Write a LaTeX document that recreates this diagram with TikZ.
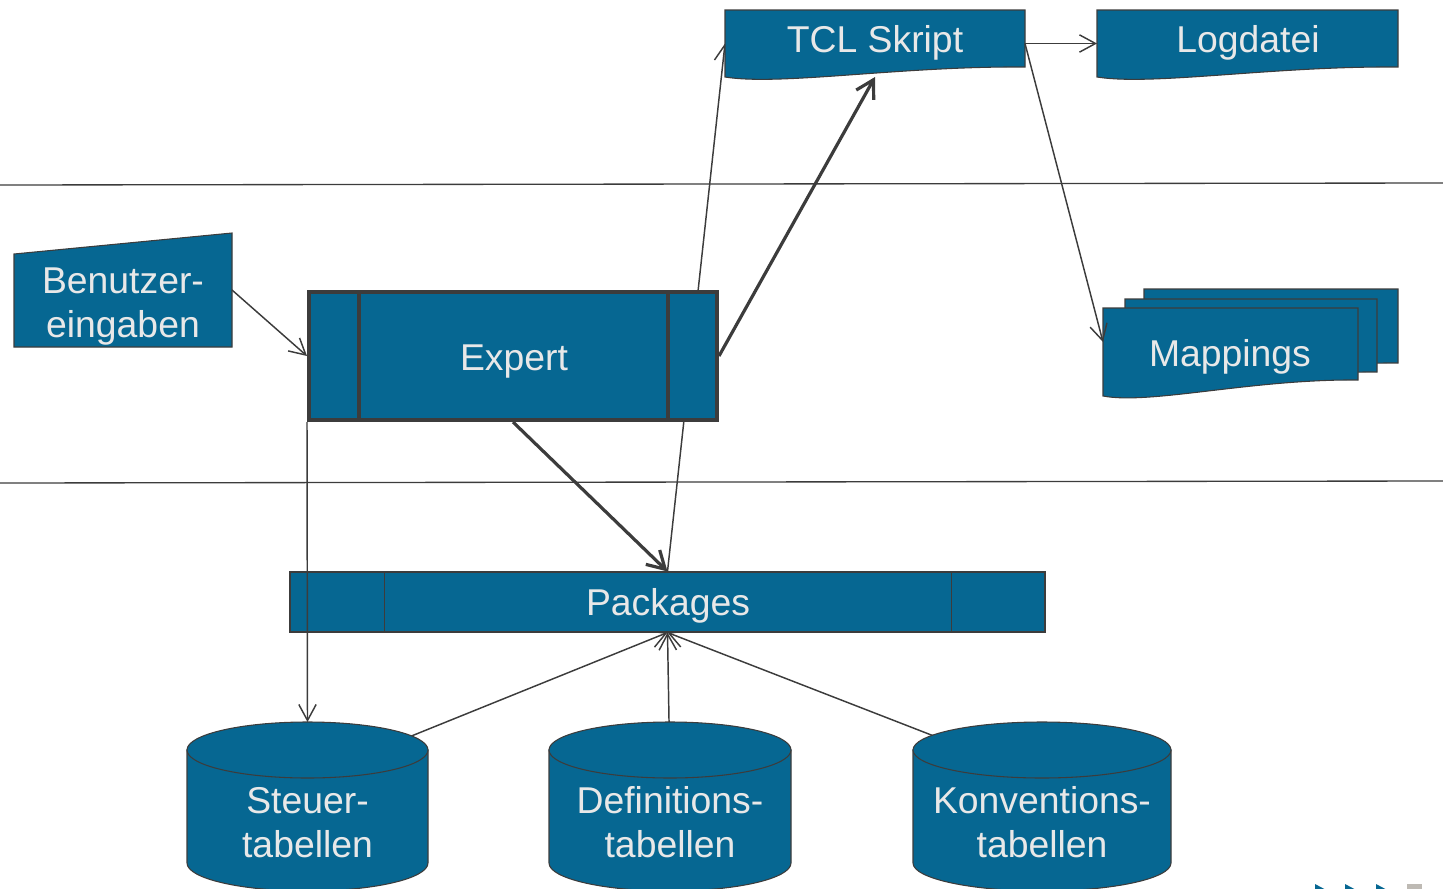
\documentclass[tikz,border=0pt]{standalone}
\usepackage{fontspec}
\setmainfont{Liberation Sans}
\usetikzlibrary{arrows.meta}
\definecolor{boxblue}{RGB}{6,103,146}
\definecolor{boxtext}{RGB}{232,232,232}
\definecolor{linegray}{RGB}{60,60,60}
\definecolor{decogray}{RGB}{190,186,180}
\pgfdeclarelayer{behind}
\pgfdeclarelayer{background}
\pgfsetlayers{behind,background,main}
% document shape: xl, xr, top, right bottom, left bottom
\newcommand\docpath[5]{(#1,#3) -- (#2,#3) -- (#2,#4) .. controls ({#1+0.583*(#2-#1)},{#4-1}) and ({#1+0.183*(#2-#1)},{#5+9}) .. (#1,#5) -- cycle}
% cylinder: xl, xr
\newcommand\cylshape[2]{%
  \draw[shapefill] (#1,750) -- (#1,863) arc[start angle=180, end angle=0, x radius={(#2-#1)/2}, y radius=28] -- (#2,750) -- cycle;
  \draw[shapefill] ({(#1+#2)/2},750) ellipse [x radius={(#2-#1)/2}, y radius=28];}
\begin{document}
\begin{tikzpicture}[x=0.75pt,y=-0.75pt,
  shapefill/.style={fill=boxblue, draw=linegray, line width=0.8pt},
  txt/.style={text=boxtext, font=\fontsize{28}{33}\selectfont, inner sep=0pt},
  anchorbox/.style={rectangle, draw=none, fill=none, inner sep=0pt, outer sep=0pt},
  expertbox/.style={rectangle, fill=boxblue, draw=linegray, line width=3pt, inner sep=0pt},
  packbox/.style={rectangle, fill=boxblue, draw=linegray, line width=0.8pt, inner sep=0pt},
  conn/.style={draw=linegray, line width=1.1pt, -{Straight Barb[length=12pt,width=13pt]}},
  bigconn/.style={draw=linegray, line width=2.4pt, -{Straight Barb[length=13pt,width=15pt]}},
  divider/.style={draw=linegray, line width=1pt}]
\useasboundingbox (0,0) rectangle (1443,889);

% anchor nodes
\node[anchorbox, minimum width=225pt, minimum height=50.25pt] (tcl) at (875,43.5) {};
\node[anchorbox, minimum width=225.75pt, minimum height=50.25pt] (logdatei) at (1247.5,43.5) {};
\node[anchorbox, minimum width=163.5pt, minimum height=85.5pt] (benutzer) at (123,290) {};
\node[anchorbox, minimum width=191.25pt, minimum height=66pt] (mappings) at (1230.5,352) {};
\node[anchorbox, minimum width=180.75pt, minimum height=84pt] (steuer) at (307.5,778) {};
\node[anchorbox, minimum width=181.5pt, minimum height=84pt] (definitions) at (670,778) {};
\node[anchorbox, minimum width=193.5pt, minimum height=84pt] (konventions) at (1042,778) {};

% Expert
\node[expertbox, minimum width=306pt, minimum height=96pt] (expert) at (513,356) {};
\draw[linegray, line width=2.5pt] ([xshift=39pt]expert.north west) -- ([xshift=39pt]expert.south west);
\draw[linegray, line width=2.5pt] ([xshift=-38.25pt]expert.north east) -- ([xshift=-38.25pt]expert.south east);

% Packages
\node[packbox, minimum width=566.25pt, minimum height=45pt] (packages) at (667.5,602) {};
\draw[linegray, line width=0.8pt] ([xshift=71.25pt]packages.north west) -- ([xshift=71.25pt]packages.south west);
\draw[linegray, line width=0.8pt] ([xshift=-70.5pt]packages.north east) -- ([xshift=-70.5pt]packages.south east);

% shapes
\begin{pgfonlayer}{background}
  \draw[shapefill] \docpath{725}{1025}{10}{67}{77};
  \draw[shapefill] \docpath{1097}{1398}{10}{67}{77};
  \draw[shapefill] (14,254) -- (232,233) -- (232,347) -- (14,347) -- cycle;
  \draw[shapefill] \docpath{1144}{1398}{289}{363}{379};
  \draw[shapefill] \docpath{1125}{1377}{299}{372}{388};
  \draw[shapefill] \docpath{1103}{1358}{308}{380}{396};
  \cylshape{187}{428}
  \cylshape{549}{791}
  \cylshape{913}{1171}
\end{pgfonlayer}

% texts
\node[txt, anchor=base] (tcltext) at (875,52) {TCL Skript};
\node[txt, anchor=base] (logtext) at (1248,52) {Logdatei};
\node[txt, align=center] (benutzertext) at (123,306.5) {Benutzer-\\eingaben};
\node[txt, anchor=base] (experttext) at (514,370) {Expert};
\node[txt, anchor=base] (mappingstext) at (1230,366) {Mappings};
\node[txt, anchor=base] (packagestext) at (668,615) {Packages};
\node[txt, align=center] (steuertext) at (307.5,822.6) {Steuer-\\tabellen};
\node[txt, align=center] (definitionstext) at (670,822.6) {Definitions-\\tabellen};
\node[txt, align=center] (konventionstext) at (1042,822.6) {Konventions-\\tabellen};

% connectors behind shapes
\begin{pgfonlayer}{behind}
  \draw[divider] (0,185) -- (1443,183);
  \draw[divider] (0,483) -- (1443,481);
  \draw[conn] (packages.north) -- (tcl.west);
  \draw[conn] (steuer.center) -- (packages.south);
  \draw[conn] (definitions.center) -- (packages.south);
  \draw[conn] (konventions.center) -- (packages.south);
\end{pgfonlayer}

% connectors
\draw[conn] (benutzer.east) -- (expert.west);
\draw[bigconn] (expert.east) -- (tcl.south);
\draw[bigconn] (expert.south) -- (packages.north);
\draw[conn] (tcl.east) -- (logdatei.west);
\draw[conn] (tcl.east) -- ([yshift=7.5pt]mappings.west);
\draw[conn] (expert.south west) -- (steuer.north);

% slide decoration at the bottom right
\begin{scope}
  \clip (0,0) rectangle (1443,889);
  \fill[boxblue] (1315,884) -- (1330,892) -- (1315,900) -- cycle;
  \fill[boxblue] (1345,884) -- (1360,892) -- (1345,900) -- cycle;
  \fill[boxblue] (1376,884) -- (1391,892) -- (1376,900) -- cycle;
  \fill[decogray] (1407,884) rectangle (1422,895);
\end{scope}
\end{tikzpicture}
\end{document}
